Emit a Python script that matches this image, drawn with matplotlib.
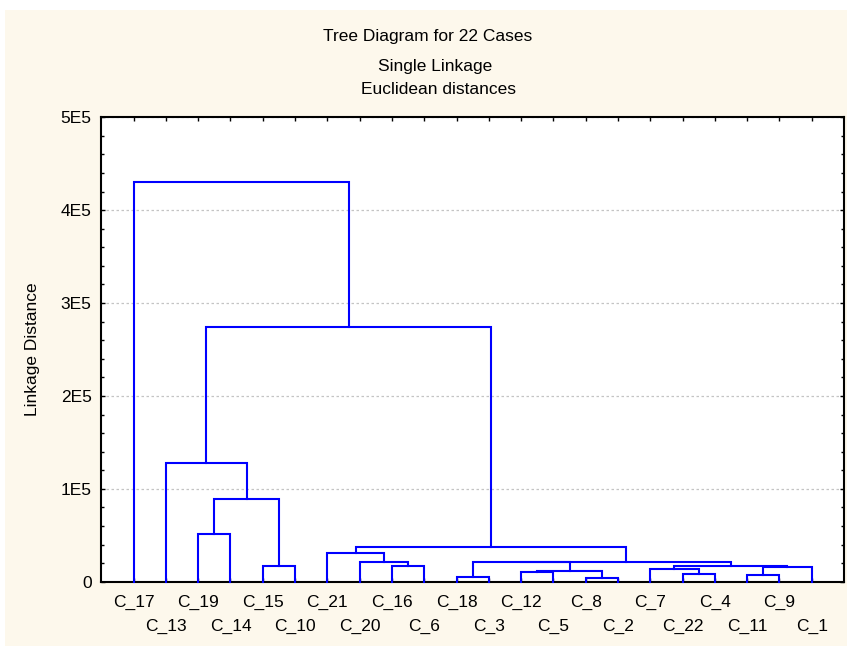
import matplotlib
matplotlib.use("Agg")
import matplotlib.pyplot as plt
from matplotlib.patches import Rectangle
from matplotlib.ticker import MultipleLocator, FixedLocator

plt.rcParams['font.family'] = ['Liberation Sans', 'DejaVu Sans']

# Leaf order along the x axis
leaves = ["C_17", "C_13", "C_19", "C_14", "C_15", "C_10", "C_21", "C_20",
          "C_16", "C_6", "C_18", "C_3", "C_12", "C_5", "C_8", "C_2",
          "C_7", "C_22", "C_4", "C_11", "C_9", "C_1"]

# Agglomeration steps: new node name, its two children, linkage distance
merge_names = ["m0", "m1", "m2", "m3", "m4", "m5", "m6", "m7", "m8", "m9",
               "m10", "m11", "m12", "m13", "m14", "m15", "m16", "m17",
               "m18", "m19", "m20"]
merge_left = ["C_8", "C_18", "C_22", "C_11", "C_12", "m4", "C_7", "m3",
              "C_16", "C_15", "m6", "m1", "m11", "C_20", "C_21", "m14",
              "C_19", "m16", "C_13", "m18", "C_17"]
merge_right = ["C_2", "C_3", "C_4", "C_9", "C_5", "m0", "m2", "C_1",
               "C_6", "C_10", "m7", "m5", "m10", "m8", "m13", "m12",
               "C_14", "m9", "m17", "m15", "m19"]
merge_height = [4.3e3, 5.5e3, 8.0e3, 7.5e3, 10.1e3, 11.5e3, 13.4e3, 15.5e3,
                16.9e3, 16.6e3, 16.9e3, 20.7e3, 21.5e3, 21.5e3, 30.6e3,
                37.0e3, 51.7e3, 89.4e3, 128e3, 274e3, 430.7e3]

y_ticks = [0, 1e5, 2e5, 3e5, 4e5, 5e5]
y_tick_labels = ["0", "1E5", "2E5", "3E5", "4E5", "5E5"]

FS = 12.5

W, H = 847, 646
fig = plt.figure(figsize=(W / 100, H / 100), dpi=100, facecolor="white")
fig.patches.append(Rectangle((5 / W, 0), 1 - 5 / W, 1 - 10 / H,
                             transform=fig.transFigure, facecolor="#fdf8ec",
                             edgecolor="none", zorder=-10))

ax = fig.add_axes([101.3 / W, (H - 581.7) / H, (844 - 101.3) / W,
                   (581.7 - 117.3) / H])
ax.set_facecolor("white")

# node positions: leaves at 1..n, clusters at midpoint of children
xpos = {name: i + 1 for i, name in enumerate(leaves)}
ypos = {name: 0.0 for name in leaves}
color = "#0000ff"
for name, l, r, h in zip(merge_names, merge_left, merge_right, merge_height):
    xl, xr = xpos[l], xpos[r]
    ax.plot([xl, xl, xr, xr], [ypos[l], h, h, ypos[r]], color=color,
            lw=1.5, solid_joinstyle="miter", zorder=3, clip_on=False)
    xpos[name] = (xl + xr) / 2
    ypos[name] = h

ax.set_xlim(0, 23)
ax.set_ylim(0, 5e5)

ax.set_yticks(y_ticks)
ax.set_yticklabels(y_tick_labels)
ax.yaxis.set_minor_locator(MultipleLocator(2e4))

even = [i + 1 for i in range(0, len(leaves), 2)]
odd = [i + 1 for i in range(1, len(leaves), 2)]
ax.xaxis.set_major_locator(FixedLocator(even))
ax.xaxis.set_minor_locator(FixedLocator(odd))
ax.set_xticklabels([leaves[i - 1] for i in even])
ax.set_xticklabels([leaves[i - 1] for i in odd], minor=True)

ax.tick_params(axis="x", which="both", direction="in", top=True,
               length=3, width=1, labelsize=FS, color="black")
ax.tick_params(axis="x", which="major", pad=9.5)
ax.tick_params(axis="x", which="minor", pad=26.5)
ax.tick_params(axis="y", which="major", direction="in", right=True,
               length=3, width=1, labelsize=FS, pad=7)
ax.tick_params(axis="y", which="minor", direction="in", right=True,
               length=2, width=1)

ax.grid(axis="y", which="major", color="#c4c4c4", linestyle=(0, (2, 2)),
        lw=0.9, zorder=1)
for s in ax.spines.values():
    s.set_linewidth(1.5)
    s.set_color("black")

ax.set_ylabel("Linkage Distance", fontsize=FS, va="center")
ax.yaxis.set_label_coords((32 - 101.3) / (844 - 101.3), 0.5)

fig.text(428 / W, 1 - 37 / H, "Tree Diagram for 22 Cases", ha="center",
         va="center", fontsize=FS)
fig.text(435 / W, 1 - 66 / H, "Single Linkage", ha="center", va="center",
         fontsize=FS)
fig.text(438 / W, 1 - 90 / H, "Euclidean distances", ha="center",
         va="center", fontsize=FS)

fig.savefig("out.png", dpi=100, facecolor=fig.get_facecolor())
